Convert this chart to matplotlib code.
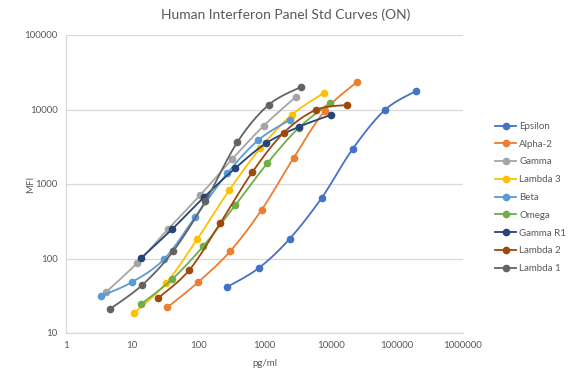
import numpy as np
import matplotlib
matplotlib.use('Agg')
import matplotlib.pyplot as plt

# standard curves (pg/ml vs MFI)
names = ['Epsilon', 'Alpha-2', 'Gamma', 'Lambda 3', 'Beta', 'Omega', 'Gamma R1', 'Lambda 2', 'Lambda 1']
colors = ['#4472C4', '#ED7D31', '#A5A5A5', '#FFC000', '#5B9BD5', '#70AD47', '#264478', '#9E480E', '#636363']

conc = {
    'Epsilon':  [272, 820, 2390, 7300, 21500, 65800, 194000],
    'Alpha-2':  [33.9, 100, 305, 901, 2750, 8110, 24800],
    'Gamma':    [4.04, 11.9, 35.1, 107, 327, 966, 2950],
    'Lambda 3': [10.7, 32.7, 96.6, 295, 869, 2570, 7830],
    'Beta':     [3.39, 10, 30.5, 90.1, 275, 811, 2390],
    'Omega':    [13.7, 40.4, 119, 364, 1110, 3270, 9660],
    'Gamma R1': [13.7, 40.4, 123, 364, 1070, 3270, 10000],
    'Lambda 2': [24.8, 73.1, 215, 658, 1940, 5930, 17500],
    'Lambda 1': [4.64, 14.2, 41.8, 128, 390, 1150, 3510],
}
mfi = {
    'Epsilon':  [41.4, 74.5, 183, 649, 2950, 9840, 17700],
    'Alpha-2':  [22, 48.4, 126, 448, 2230, 9550, 23400],
    'Gamma':    [35.5, 87, 249, 712, 2170, 6010, 14700],
    'Lambda 3': [18.5, 46.9, 183, 830, 3040, 8440, 16600],
    'Beta':     [31.4, 48.4, 98.4, 361, 1400, 3900, 7230],
    'Omega':    [24.5, 53, 147, 523, 1910, 5640, 12200],
    'Gamma R1': [101.6, 249, 670, 1640, 3550, 5820, 8440],
    'Lambda 2': [29.5, 70.1, 300, 1450, 4840, 9840, 11500],
    'Lambda 1': [21, 44.1, 126, 591, 3660, 11500, 20000],
}

x_ticks = [1, 10, 100, 1000, 10000, 100000, 1000000]
y_ticks = [10, 100, 1000, 10000, 100000]


def smooth(xs, ys, n=20):
    # catmull-rom in log space, like excel's "smoothed line"
    lx = np.log10(xs)
    ly = np.log10(ys)
    px = np.concatenate([[lx[0]], lx, [lx[-1]]])
    py = np.concatenate([[ly[0]], ly, [ly[-1]]])
    outx, outy = [], []
    t = np.linspace(0, 1, n)
    for i in range(1, len(px) - 2):
        for p, out in ((px, outx), (py, outy)):
            p0, p1, p2, p3 = p[i - 1], p[i], p[i + 1], p[i + 2]
            seg = 0.5 * ((2 * p1) + (-p0 + p2) * t +
                         (2 * p0 - 5 * p1 + 4 * p2 - p3) * t ** 2 +
                         (-p0 + 3 * p1 - 3 * p2 + p3) * t ** 3)
            out.extend(seg)
    return 10 ** np.array(outx), 10 ** np.array(outy)


plt.rcParams['font.family'] = ['Lato', 'DejaVu Sans']
fig = plt.figure(figsize=(5.72, 3.80), dpi=100)
ax = fig.add_axes([66 / 572, 1 - 333 / 380, (463 - 66) / 572, (333 - 35) / 380])

for i, name in enumerate(names):
    sx, sy = smooth(conc[name], mfi[name])
    ax.plot(sx, sy, color=colors[i], lw=1.3, zorder=3 + i)
    ax.plot(conc[name], mfi[name], 'o', color=colors[i], ms=4.5, zorder=3 + i)
    # legend proxy
    ax.plot([], [], '-o', color=colors[i], lw=1.3, ms=4.5, label=name)

ax.set_xscale('log')
ax.set_yscale('log')
ax.set_xlim(1, 1000000)
ax.set_ylim(10, 100000)
ax.set_xticks(x_ticks)
ax.set_xticklabels([str(v) for v in x_ticks])
ax.set_yticks(y_ticks)
ax.set_yticklabels([str(v) for v in y_ticks])
ax.minorticks_off()
ax.tick_params(length=0, labelsize=7, labelcolor='#595959', pad=6)

ax.grid(axis='y', color='#D9D9D9', lw=0.9)
ax.set_axisbelow(True)
for s in ['top', 'right']:
    ax.spines[s].set_visible(False)
for s in ['left', 'bottom']:
    ax.spines[s].set_color('#D9D9D9')
    ax.spines[s].set_linewidth(0.9)

ax.set_xlabel('pg/ml', fontsize=7, color='#595959', labelpad=6)
fig.text(31 / 572, 1 - 184 / 380, 'MFI', rotation=90, ha='center', va='center',
         fontsize=7, color='#595959')
fig.text(286 / 572, 1 - 15 / 380, 'Human Interferon Panel Std Curves (ON)',
         ha='center', va='center', fontsize=10, color='#595959')

ax.legend(loc='upper left', bbox_to_anchor=(495 / 572, 1 - 122 / 380),
          bbox_transform=fig.transFigure, frameon=False, fontsize=7,
          handlelength=2.2, handletextpad=0.3, labelspacing=0.9,
          borderpad=0, borderaxespad=0, labelcolor='#595959')

plt.savefig('out.png', dpi=100)
plt.close(fig)
